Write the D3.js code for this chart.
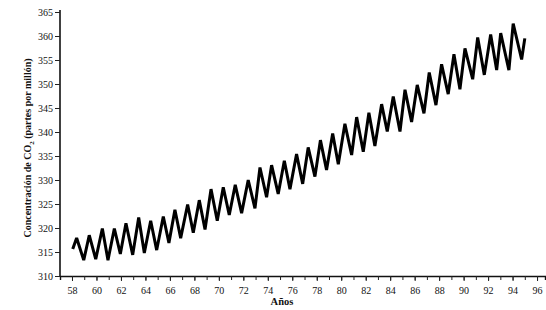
<!DOCTYPE html>
<html>
<head>
<meta charset="utf-8">
<script src="https://cdn.jsdelivr.net/npm/d3@7"></script>
<style>
  html, body { margin: 0; padding: 0; background: #fff; }
  svg { display: block; }
  text { font-family: "Liberation Serif", "DejaVu Serif", serif; fill: #111; }
</style>
</head>
<body>
<svg id="chart" width="546" height="310"></svg>
<script>
// Decimal year (19xx) of each turning point of the seasonal cycle
const years = [
  58.06, 58.38, 58.96, 59.41, 59.94, 60.48, 60.94, 61.46, 61.95, 62.41,
  62.96, 63.45, 63.91, 64.43, 64.92, 65.46, 65.92, 66.41, 66.88, 67.45,
  67.91, 68.40, 68.87, 69.36, 69.87, 70.36, 70.85, 71.34, 71.86, 72.40,
  72.95, 73.36, 73.90, 74.31, 74.85, 75.35, 75.81, 76.35, 76.85, 77.30,
  77.85, 78.30, 78.80, 79.30, 79.76, 80.30, 80.85, 81.26, 81.80, 82.26,
  82.75, 83.30, 83.76, 84.25, 84.80, 85.21, 85.75, 86.21, 86.76, 87.19,
  87.74, 88.20, 88.74, 89.21, 89.70, 90.11, 90.74, 91.15, 91.69, 92.21,
  92.70, 93.03, 93.70, 94.05, 94.74, 95.00
];
// CO2 concentration (ppm) at those points
const co2 = [
  315.6, 317.9, 313.3, 318.5, 313.5, 319.9, 313.3, 319.9, 314.6, 321.0,
  314.4, 322.2, 314.8, 321.5, 315.4, 322.4, 316.9, 323.8, 317.9, 324.9,
  319.0, 325.8, 319.7, 328.1, 321.5, 328.5, 322.7, 329.0, 323.1, 330.0,
  324.1, 332.6, 326.4, 333.1, 327.1, 334.0, 328.1, 335.4, 329.2, 336.8,
  330.7, 338.3, 332.1, 339.7, 333.3, 341.7, 335.2, 343.1, 335.9, 344.0,
  337.1, 345.8, 340.1, 347.4, 340.1, 348.8, 342.1, 349.8, 343.9, 352.4,
  345.6, 354.1, 347.9, 356.2, 348.9, 357.4, 351.0, 359.7, 351.9, 360.3,
  352.9, 360.6, 352.9, 362.6, 355.1, 359.5
];
const xTickYears = [58, 60, 62, 64, 66, 68, 70, 72, 74, 76, 78, 80, 82, 84, 86, 88, 90, 92, 94, 96];
const minorTickYears = [58, 59, 60, 61, 62, 63, 64, 65, 66, 67, 68, 69, 70, 71, 72, 73, 74, 75, 76, 77,
  78, 79, 80, 81, 82, 83, 84, 85, 86, 87, 88, 89, 90, 91, 92, 93, 94, 95, 96];
const yTicks = [310, 315, 320, 325, 330, 335, 340, 345, 350, 355, 360, 365];
const xDomain = [57.02, 96.65];
const yDomain = [310, 365];

const svg = d3.select("#chart");
const x = d3.scaleLinear().domain(xDomain).range([60, 545]);
const y = d3.scaleLinear().domain(yDomain).range([276, 12]);

// X axis: minor ticks every year, labels every two years
const xMinor = svg.append("g")
  .attr("transform", `translate(0,${y(310)})`)
  .call(d3.axisBottom(x).tickValues(minorTickYears).tickSize(4).tickFormat(""));
xMinor.select(".domain").attr("stroke-width", 1.4).attr("stroke", "#111");
xMinor.selectAll(".tick line").attr("stroke", "#222").attr("stroke-width", 1);

const xAxis = svg.append("g")
  .attr("transform", `translate(0,${y(310)})`)
  .call(d3.axisBottom(x).tickValues(xTickYears).tickSize(5).tickPadding(6).tickFormat(d3.format("d")));
xAxis.select(".domain").remove();
xAxis.selectAll(".tick line").attr("stroke", "#222").attr("stroke-width", 1);
xAxis.selectAll(".tick text")
  .style("font-family", '"Liberation Serif", serif')
  .style("font-size", "10px").attr("fill", "#111");

// Y axis
const yAxis = svg.append("g")
  .attr("transform", `translate(${x(xDomain[0])},0)`)
  .call(d3.axisLeft(y).tickValues(yTicks).tickSize(5).tickPadding(2).tickFormat(d3.format("d")));
yAxis.select(".domain").attr("stroke-width", 1.6).attr("stroke", "#111")
  .attr("d", `M0,${y(310)}V${y(365) - 2}`);
yAxis.selectAll(".tick line").attr("stroke", "#222").attr("stroke-width", 1);
yAxis.selectAll(".tick text")
  .style("font-family", '"Liberation Serif", serif')
  .style("font-size", "10px").attr("fill", "#111");

// Data line
const pts = years.map((yr, i) => [yr, co2[i]]);
svg.append("path")
  .datum(pts)
  .attr("fill", "none")
  .attr("stroke", "#000")
  .attr("stroke-width", 3)
  .attr("stroke-linejoin", "miter")
  .attr("stroke-miterlimit", 3)
  .attr("stroke-linecap", "butt")
  .attr("d", d3.line().x(d => x(d[0])).y(d => y(d[1])));

// Y axis title
const yt = svg.append("text")
  .attr("transform", `translate(31,${(y(310) + y(365)) / 2 + 4}) rotate(-90)`)
  .attr("text-anchor", "middle")
  .style("font-size", "10px")
  .style("font-weight", "bold");
yt.append("tspan").text("Concentración de CO");
yt.append("tspan").text("2").style("font-size", "7px").attr("dy", 2.5);
yt.append("tspan").text(" (partes por millón)").attr("dy", -2.5);

// X axis title
svg.append("text")
  .attr("x", 282)
  .attr("y", 305)
  .attr("text-anchor", "middle")
  .style("font-size", "10.5px")
  .style("font-weight", "bold")
  .text("Años");
</script>
</body>
</html>
